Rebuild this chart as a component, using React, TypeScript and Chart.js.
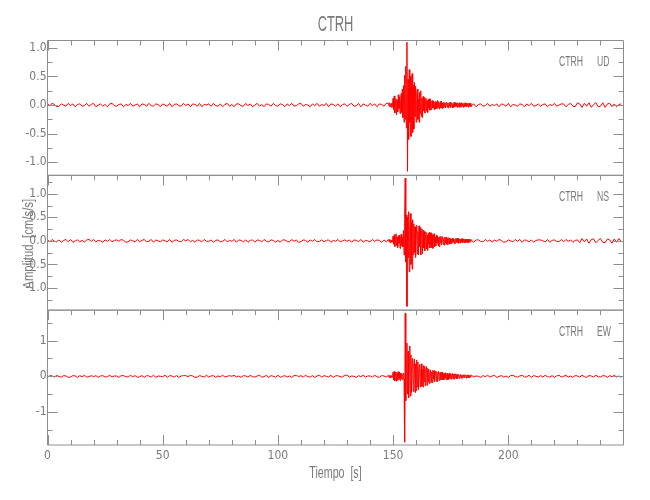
import { useEffect, useRef } from "react";
import { Chart, registerables } from "chart.js";

Chart.register(...registerables);

// ---------- text ----------
const STATION = "CTRH";
const COMPONENTS = ["UD", "NS", "EW"];
const X_TITLE = "Tiempo  [s]";
const Y_TITLE = "Amplitud  [cm/s/s]";

// ---------- axes ----------
const X_MIN = 0;
const X_MAX = 249.99;
const X_TICKS = [0, 50, 100, 150, 200];
const X_MINOR = 10;
const Y_MIN = [-1.23, -1.47, -1.92];
const Y_MAX = [1.13, 1.39, 1.85];
const Y_TICKS = [
  [-1, -0.5, 0, 0.5, 1],
  [-1, -0.5, 0, 0.5, 1],
  [-1, 0, 1],
];
const Y_DECIMALS = [1, 1, 0];
const Y_MINOR = [0.25, 0.25, 0.5];

// ---------- sampling of the traces (s) ----------
const PRE_T0 = 0;
const PRE_DT = 1;
const EVT_T0 = 148;
const EVT_DT = 0.25;
const POST_T0 = 184;
const POST_DT = 1;

// ---------- UD (cm/s/s) ----------
const UD_PRE = [
  .02,-.01,.03,.01,-.03,-.02,.02,0,-.02,.03,
  -.01,.02,-.03,.01,.02,-.02,-.01,.03,-.02,.01,
  .03,-.03,0,.02,-.02,.01,-.03,.02,.03,-.01,
  -.02,.01,.02,-.03,.01,-.01,.03,-.02,0,.02,
  -.03,.02,.01,-.02,.03,-.01,-.02,.02,.01,-.03,
  .02,0,-.02,.03,-.03,.01,.02,-.01,-.02,.03,
  -.01,.02,-.03,.02,.01,-.02,.03,-.03,.01,0,
  .02,-.02,.03,-.01,-.02,.02,-.03,.01,.03,-.02,
  .01,-.03,.02,.02,-.01,-.02,.03,-.01,.02,-.03,
  0,.03,-.02,.01,-.03,.02,.01,-.02,.03,-.01,
  -.02,.02,.01,-.03,.02,-.01,.03,-.02,-.01,.02,
  .03,-.02,.01,0,-.03,.02,-.01,.03,-.02,.01,
  -.01,.03,-.03,.02,.01,-.02,.02,-.03,.01,.02,
  -.02,.01,.03,-.02,-.01,.03,-.03,.02,0,-.02,
  .03,-.01,.02,-.03,.02,.01,-.02,.03,
];
const UD_EVT = [
  .03,-.02,.04,-.03,.01,.03,-.04,.02,
  .12,-.08,.16,-.14,.05,.11,-.17,.09,-.12,.18,-.06,.14,-.15,.08,.2,-.13,
  .28,-.22,.34,-.3,
  .52,-.25,.68,-.4,
  1.1,-1.16,
  .45,-.6,
  .62,-.3,.5,-.55,.28,.55,-.48,.35,
  -.42,.4,-.2,.33,
  -.3,.18,.28,-.25,.1,-.3,.22,-.15,.25,-.2,.12,-.22,
  .15,-.1,.13,-.14,.06,.12,-.11,.08,-.13,.1,-.05,.11,-.09,.1,-.08,.06,
  .08,-.05,.07,-.08,.03,.06,-.07,.05,-.06,.08,-.04,.06,-.07,.03,.06,-.05,.07,-.06,.04,-.05,
  .05,-.03,.04,-.05,.02,.05,-.04,.03,-.05,.04,-.02,.05,
  -.04,.03,.04,-.05,.02,-.04,.05,-.03,.04,-.02,.03,-.04,
  .04,-.03,.02,.04,-.04,.03,-.03,.04,-.02,.03,-.04,.03,
  -.03,.04,-.02,.03,-.03,.02,.03,-.04,.03,-.02,.03,-.03,
];
const UD_POST = [
  -.01,.02,-.03,.01,.02,-.02,-.01,.03,-.02,.01,
  -.01,.02,-.03,.02,.01,-.02,.03,-.03,.01,0,
  -.02,.02,.01,-.03,.02,-.01,.03,-.02,-.01,.02,
  -.02,.01,.02,-.03,.01,-.01,.03,-.02,0,.02,
  .02,-.03,.01,.03,-.02,
  -.03,.04,.02,-.04,.03,-.02,.04,-.04,.01,.04,-.03,-.02,.04,-.04,.02,.03,-.03,
  .02,-.03,.01,.02,
];

// ---------- NS (cm/s/s) ----------
const NS_PRE = [
  .02,-.02,.03,-.01,-.02,.02,-.03,.01,.03,-.02,
  .03,-.03,0,.02,-.02,.01,-.03,.02,.03,-.01,
  .03,-.02,.01,0,-.03,.02,-.01,.03,-.02,.01,
  .02,-.01,.03,.01,-.03,-.02,.02,0,-.02,.03,
  -.02,.01,.03,-.02,-.01,.03,-.03,.02,0,-.02,
  .02,0,-.02,.03,-.03,.01,.02,-.01,-.02,.03,
  0,.03,-.02,.01,-.03,.02,.01,-.02,.03,-.01,
  -.01,.02,-.03,.01,.02,-.02,-.01,.03,-.02,.01,
  -.01,.03,-.03,.02,.01,-.02,.02,-.03,.01,.02,
  -.03,.02,.01,-.02,.03,-.01,-.02,.02,.01,-.03,
  .01,-.03,.02,.02,-.01,-.02,.03,-.01,.02,-.03,
  -.02,.02,.01,-.03,.02,-.01,.03,-.02,-.01,.02,
  -.02,.01,.02,-.03,.01,-.01,.03,-.02,0,.02,
  -.01,.02,-.03,.02,.01,-.02,.03,-.03,.01,0,
  -.02,.03,-.01,.02,.01,-.03,.02,-.02,
];
const NS_EVT = [
  .03,-.02,.03,-.04,.02,.01,-.03,.03,
  .1,-.07,.13,-.12,.05,.15,-.1,.08,-.14,.11,-.05,.12,-.16,.09,.14,-.11,.07,-.13,
  .22,-.3,.45,
  1.33,-.45,.55,-1.39,
  .5,-.35,.62,-.66,.3,.58,-.5,.4,-.6,.45,-.3,
  .36,-.25,.3,-.35,.15,.33,-.28,.2,-.3,.32,-.12,.28,-.3,.18,.25,-.27,
  .22,-.15,.2,-.21,.08,.19,-.17,.12,-.2,.16,-.07,.18,-.15,.1,.17,-.14,.13,-.16,.06,.15,
  -.12,.08,-.11,.12,-.05,.1,-.1,.07,-.12,.09,-.04,.1,-.09,.06,
  .09,-.08,.05,-.09,.08,-.04,.08,-.07,.06,-.08,.03,.07,-.07,.05,
  -.06,.04,-.05,.06,-.02,.05,-.06,.03,-.05,.05,-.03,.06,
  -.04,.05,-.05,.02,.04,-.05,.04,-.03,.05,-.04,.02,.04,
  -.04,.03,-.04,.04,-.02,.03,-.04,.03,-.03,.04,-.02,.03,
];
const NS_POST = [
  .01,-.03,.02,.02,-.01,-.02,.03,-.01,.02,-.03,
  .02,-.01,.03,.01,-.03,-.02,.02,0,-.02,.03,
  -.01,.03,-.03,.02,.01,-.02,.02,-.03,.01,.02,
  .02,0,-.02,.03,-.03,.01,.02,-.01,-.02,.03,
  -.02,.03,-.01,.02,-.03,.01,.02,
  -.04,.05,-.02,.04,-.05,.03,.04,-.04,.01,.05,-.03,-.04,.04,.02,-.05,.04,-.03,.05,
  -.02,
];

// ---------- EW (cm/s/s) ----------
const EW_PRE = [
  -.03,.02,.01,-.02,.03,-.01,-.02,.02,.01,-.03,
  -.02,.02,.01,-.03,.02,-.01,.03,-.02,-.01,.02,
  -.01,.02,-.03,.01,.02,-.02,-.01,.03,-.02,.01,
  .01,-.03,.02,.02,-.01,-.02,.03,-.01,.02,-.03,
  -.01,.02,-.03,.02,.01,-.02,.03,-.03,.01,0,
  -.01,.03,-.03,.02,.01,-.02,.02,-.03,.01,.02,
  .02,-.01,.03,.01,-.03,-.02,.02,0,-.02,.03,
  -.02,.01,.02,-.03,.01,-.01,.03,-.02,0,.02,
  0,.03,-.02,.01,-.03,.02,.01,-.02,.03,-.01,
  -.02,.01,.03,-.02,-.01,.03,-.03,.02,0,-.02,
  .03,-.03,0,.02,-.02,.01,-.03,.02,.03,-.01,
  .02,-.02,.03,-.01,-.02,.02,-.03,.01,.03,-.02,
  .02,0,-.02,.03,-.03,.01,.02,-.01,-.02,.03,
  .03,-.02,.01,0,-.03,.02,-.01,.03,-.02,.01,
  .01,-.02,.03,-.01,-.03,.02,.01,-.02,
];
const EW_EVT = [
  .03,-.03,.02,-.04,.03,.01,-.03,.02,
  .12,-.1,.14,-.13,.08,.12,-.14,.1,-.11,.13,-.08,.12,-.12,.09,
  -.06,.08,-.1,.05,.09,-.08,
  -1.84,1.76,
  -.68,.4,.93,-.5,.7,-.6,.35,.85,-.55,.6,
  -.45,.3,.5,-.42,.25,.48,-.45,.35,-.4,.46,-.3,.4,
  -.37,.25,.33,-.3,.15,.35,-.28,.2,-.3,.3,-.15,.28,-.26,.18,.27,-.25,
  .22,-.15,.2,-.2,.08,.18,-.17,.12,-.18,.17,-.08,.16,-.15,.1,.15,-.14,.12,-.15,.06,.14,
  -.12,.08,.11,-.1,.05,.12,-.1,.07,-.1,.09,-.05,.1,-.09,.06,.09,-.1,
  .05,-.08,.09,-.06,.08,-.08,.04,.08,-.07,.06,-.08,.07,-.04,.07,-.07,.05,
  -.06,.04,.05,-.06,.03,.05,-.05,.03,-.05,.04,-.02,.05,
  -.04,.03,.04,-.05,.02,.04,-.04,.03,-.04,.03,-.02,.04,
];
const EW_POST = [
  .03,-.02,.01,0,-.03,.02,-.01,.03,-.02,.01,
  .03,-.03,0,.02,-.02,.01,-.03,.02,.03,-.01,
  -.02,.01,.03,-.02,-.01,.03,-.03,.02,0,-.02,
  .02,-.02,.03,-.01,-.02,.02,-.03,.01,.03,-.02,
  0,.03,-.02,.01,-.03,.02,.01,-.02,.03,-.01,
  -.03,.02,.01,-.02,.03,-.01,-.02,.02,.01,-.03,
  .02,-.01,.03,-.02,.01,-.03,
];

// ---------- styling ----------
const GRAY_TEXT = "#7a7a7a";
const GRAY_AXIS = "#8e8e8e";
const TRACE = "#ff0000";
const TICK_FONT = "'Liberation Sans Narrow', 'DejaVu Sans Condensed', 'Liberation Sans', Arial, sans-serif";
const LABEL_FONT = "'Liberation Sans', Arial, sans-serif";

function toPoints(pre: number[], evt: number[], post: number[]) {
  return [
    ...pre.map((y, i) => ({ x: PRE_T0 + i * PRE_DT, y })),
    ...evt.map((y, i) => ({ x: EVT_T0 + i * EVT_DT, y })),
    ...post.map((y, i) => ({ x: POST_T0 + i * POST_DT, y })),
  ];
}

function condensed(
  ctx: CanvasRenderingContext2D,
  text: string,
  x: number,
  y: number,
  size: number,
  sx: number,
  align: CanvasTextAlign,
  rot = 0
) {
  ctx.save();
  ctx.translate(x, y);
  if (rot) ctx.rotate(rot);
  ctx.scale(sx, 1);
  ctx.font = `${size}px ${LABEL_FONT}`;
  ctx.textAlign = align;
  ctx.textBaseline = "alphabetic";
  ctx.fillStyle = GRAY_TEXT;
  ctx.fillText(text, 0, 0);
  ctx.restore();
}

const PANEL_IDS = ["yUD", "yNS", "yEW"];

const framePlugin = {
  id: "idlFrame",
  afterDraw(chart: any) {
    const ctx: CanvasRenderingContext2D = chart.ctx;
    const xs = chart.scales.x;
    const area = chart.chartArea;
    ctx.save();
    ctx.strokeStyle = GRAY_AXIS;
    ctx.lineWidth = 1;
    const MAJ = 10;
    const MIN = 5;
    PANEL_IDS.forEach((id, k) => {
      const ys = chart.scales[id];
      const top = ys.top;
      const bot = ys.bottom;
      const l = area.left;
      const r = area.right;
      ctx.beginPath();
      ctx.rect(l, top, r - l, bot - top);
      const mstep = Y_MINOR[k];
      for (let v = Math.ceil(Y_MIN[k] / mstep) * mstep; v <= Y_MAX[k] + 1e-9; v += mstep) {
        const py = Math.round(ys.getPixelForValue(v)) + 0.5;
        const isMaj = Y_TICKS[k].some((t) => Math.abs(t - v) < 1e-6);
        const len = isMaj ? MAJ : MIN;
        ctx.moveTo(l, py);
        ctx.lineTo(l + len, py);
        ctx.moveTo(r, py);
        ctx.lineTo(r - len, py);
      }
      for (let t = X_MIN; t <= X_MAX; t += X_MINOR) {
        const px = Math.round(xs.getPixelForValue(t)) + 0.5;
        const len = X_TICKS.includes(t) ? MAJ : MIN;
        ctx.moveTo(px, top);
        ctx.lineTo(px, top + len);
        if (k === PANEL_IDS.length - 1) {
          ctx.moveTo(px, bot);
          ctx.lineTo(px, bot - len);
        }
      }
      ctx.stroke();
      const base = top + 25.5;
      condensed(ctx, STATION, r - 64.5, base, 14, 0.62, "left");
      condensed(ctx, COMPONENTS[k], r - 26.5, base, 14, 0.62, "left");
    });
    const cx = (area.left + area.right) / 2;
    condensed(ctx, STATION, cx, 30.7, 22, 0.585, "center");
    condensed(ctx, X_TITLE, cx, 478, 16, 0.666, "center");
    const ns = chart.scales.yNS;
    condensed(ctx, Y_TITLE, 33.3, (ns.top + ns.bottom) / 2 + 1, 15, 0.76, "center", -Math.PI / 2);
    ctx.restore();
  },
};

function yScale(k: number) {
  return {
    type: "linear",
    position: "left",
    stack: "panels",
    stackWeight: 1,
    min: Y_MIN[k],
    max: Y_MAX[k],
    grid: { display: false, drawTicks: false },
    border: { display: false },
    afterBuildTicks: (s: any) => {
      s.ticks = Y_TICKS[k].map((value) => ({ value }));
    },
    ticks: {
      autoSkip: false,
      padding: 1,
      color: GRAY_TEXT,
      font: { family: TICK_FONT, size: 12 },
      callback: (v: any) => Number(v).toFixed(Y_DECIMALS[k]),
    },
    afterFit: (s: any) => {
      s.width = 47.5;
    },
  };
}

export default function App() {
  const ref = useRef<HTMLCanvasElement | null>(null);
  useEffect(() => {
    if (!ref.current) return;
    const series = [
      toPoints(UD_PRE, UD_EVT, UD_POST),
      toPoints(NS_PRE, NS_EVT, NS_POST),
      toPoints(EW_PRE, EW_EVT, EW_POST),
    ];
    const chart = new Chart(ref.current, {
      type: "line",
      data: {
        datasets: series.map((d, k) => ({
          label: `${STATION} ${COMPONENTS[k]}`,
          data: d,
          yAxisID: PANEL_IDS[k],
          borderColor: TRACE,
          borderWidth: 1,
          pointRadius: 0,
          tension: 0,
          fill: false,
        })),
      },
      options: {
        animation: false,
        responsive: false,
        devicePixelRatio: 1,
        layout: { padding: { top: 40.5, right: 26.5, bottom: 0, left: 0 } },
        plugins: { legend: { display: false }, tooltip: { enabled: false }, title: { display: false } },
        scales: {
          x: {
            type: "linear",
            position: "bottom",
            min: X_MIN,
            max: X_MAX,
            grid: { display: false, drawTicks: false },
            border: { display: false },
            afterBuildTicks: (s: any) => {
              s.ticks = X_TICKS.map((value) => ({ value }));
            },
            ticks: {
              autoSkip: false,
              maxRotation: 0,
              padding: 4,
              color: GRAY_TEXT,
              font: { family: TICK_FONT, size: 12 },
              callback: (v: any) => String(v),
            },
            afterFit: (s: any) => {
              s.height = 55;
            },
          },
          yEW: yScale(2),
          yNS: yScale(1),
          yUD: yScale(0),
        } as any,
      },
      plugins: [framePlugin],
    } as any);
    return () => chart.destroy();
  }, []);
  return (
    <div style={{ position: "absolute", left: 0, top: 0, width: 650, height: 500, background: "#fff" }}>
      <canvas ref={ref} width={650} height={500} style={{ width: 650, height: 500, display: "block" }} />
    </div>
  );
}
